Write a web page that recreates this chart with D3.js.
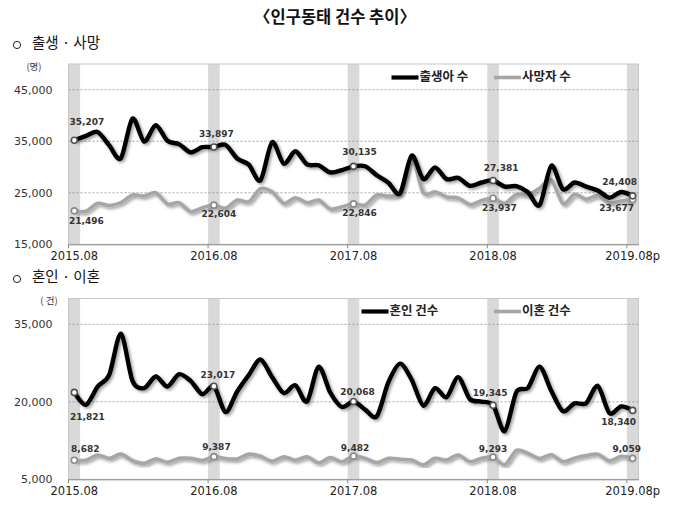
<!DOCTYPE html>
<html><head><meta charset="utf-8">
<script src="https://cdn.jsdelivr.net/npm/d3@7"></script>
<style>
body{margin:0;background:#fff;}
svg{display:block;}
</style></head>
<body>
<svg id="c" width="680" height="506"></svg>
<script>
// ---------- data ----------
const months = [
"2015.08","2015.09","2015.10","2015.11","2015.12","2016.01","2016.02","2016.03","2016.04","2016.05","2016.06","2016.07",
"2016.08","2016.09","2016.10","2016.11","2016.12","2017.01","2017.02","2017.03","2017.04","2017.05","2017.06","2017.07",
"2017.08","2017.09","2017.10","2017.11","2017.12","2018.01","2018.02","2018.03","2018.04","2018.05","2018.06","2018.07",
"2018.08","2018.09","2018.10","2018.11","2018.12","2019.01","2019.02","2019.03","2019.04","2019.05","2019.06","2019.07",
"2019.08p"];
const highlightMonths = ["2015.08","2016.08","2017.08","2018.08","2019.08p"];
const xTickLabels = ["2015.08","2016.08","2017.08","2018.08","2019.08p"];

const births = [
35207,36050,36800,34200,31700,39400,34950,38100,35100,34450,32850,33850,
33897,34300,31650,30450,27400,34800,30650,33050,30500,30350,28950,29400,
30135,30150,28400,26950,24900,32200,27650,29900,27650,27900,26350,27000,
27381,26200,26300,25100,22600,30250,25700,27000,26200,25450,24050,25150,
24408];
const deaths = [
21496,21400,22950,22500,23070,24560,24360,25010,22820,23070,21330,22100,
22604,21980,23590,23260,25800,25200,22950,24040,23070,23590,21850,22300,
22846,22620,24560,24360,25050,31600,25000,25200,24200,24000,22700,23500,
23937,22950,24700,24600,25900,27500,22900,24700,23750,24450,23000,23400,
23677];
const marriages = [
21821,19400,22950,25200,33200,24060,22640,24900,22960,25350,24060,21480,
23017,18000,22000,25200,28200,24800,21700,23200,20060,26800,21800,19000,
20068,18500,17200,23800,27400,24260,19260,22640,20900,24770,20520,20060,
19345,14300,21900,22700,26800,22150,18200,19700,19740,23100,17800,19100,
18340];
const divorces = [
8682,8700,9700,9050,9870,8600,8100,8950,8300,9050,9050,8650,
9387,9000,8950,9870,9450,8500,9350,8700,9350,8200,9200,8400,
9482,9060,8220,9060,8870,8730,7800,9060,8730,9700,8410,9060,
9293,7800,10600,10000,9000,9750,8400,9100,9600,9850,8570,9450,
9059];

const birthTicks = [15000,25000,35000,45000];
const marriageTicks = [5000,20000,35000];

// ---------- layout ----------
const svg = d3.select("#c");
const defs = svg.append("defs");
const f = defs.append("filter").attr("id","sh").attr("x","-5%").attr("y","-20%").attr("width","110%").attr("height","140%");
f.append("feDropShadow").attr("dx",1.8).attr("dy",1.8).attr("stdDeviation",1.4)
 .attr("flood-color","#000").attr("flood-opacity",0.38);

const KR = "'Noto Sans CJK KR','Noto Sans',sans-serif";
const NUM = "'DejaVu Sans',Verdana,sans-serif";

svg.append("text").attr("x",335).attr("y",19).attr("text-anchor","middle")
  .attr("dominant-baseline","middle").style("font-family",KR).style("font-size","16.5px")
  .style("font-weight","bold").attr("fill","#111").text("〈인구동태 건수 추이〉");

const x = d3.scaleBand().domain(months).range([68.5,638.5]).paddingInner(0).paddingOuter(0);
const cx = m => x(m) + x.bandwidth()/2;

function chart(cfg){
  const {top,bottom,domain,ticks,s1,s2,n1,n2,unit,unitX,heading,headingY,legendY,leg1X,leg2X,lab1,lab2} = cfg;
  const y = d3.scaleLinear().domain(domain).range([bottom,top]);
  const g = svg.append("g");

  // heading
  g.append("circle").attr("cx",17).attr("cy",headingY+1).attr("r",3.6)
   .attr("fill","none").attr("stroke","#222").attr("stroke-width",1);
  g.append("text").attr("x",32).attr("y",headingY).attr("dominant-baseline","middle")
   .style("font-family",KR).style("font-size","14.5px").attr("fill","#111").text(heading);

  // highlight bands
  g.selectAll("rect.band").data(highlightMonths).join("rect")
   .attr("x",d=>x(d)).attr("y",top).attr("width",x.bandwidth()).attr("height",bottom-top)
   .attr("fill","#d9d9d9");

  // gridlines
  g.selectAll("line.grid").data(ticks.filter(t=>t!==domain[0])).join("line")
   .attr("x1",68.5).attr("x2",638.5).attr("y1",d=>y(d)).attr("y2",d=>y(d))
   .attr("stroke","#8c8c8c").attr("stroke-width",0.8).attr("stroke-dasharray","2,2");

  // frame
  g.append("rect").attr("x",68.5).attr("y",top).attr("width",570).attr("height",bottom-top)
   .attr("fill","none").attr("stroke","#c8c8c8").attr("stroke-width",1);

  // y axis
  const ya = g.append("g").attr("transform","translate(68.5,0)")
   .call(d3.axisLeft(y).tickValues(ticks).tickFormat(d3.format(",")).tickSize(0).tickPadding(16));
  ya.select(".domain").remove();
  ya.selectAll("text").style("font-family",NUM).style("font-size","11px").attr("fill","#333");

  // unit
  g.append("text").attr("x",unitX).attr("y",top+3).attr("text-anchor","middle").attr("dominant-baseline","middle")
   .style("font-family",KR).style("font-size","9.5px").attr("fill","#333").text(unit);

  // x axis
  const xa = g.append("g").attr("transform",`translate(0,${bottom})`)
   .call(d3.axisBottom(x).tickValues(highlightMonths).tickFormat((d,i)=>xTickLabels[i]).tickSize(0).tickPadding(8));
  xa.select(".domain").attr("stroke","#888");
  xa.selectAll("text").style("font-family",NUM).style("font-size","11.5px").attr("fill","#222");
  g.selectAll("line.xt").data(highlightMonths).join("line")
   .attr("x1",d=>x(d)).attr("x2",d=>x(d)).attr("y1",bottom).attr("y2",bottom+4)
   .attr("stroke","#888").attr("stroke-width",1);

  const line = d3.line().x((d,i)=>cx(months[i])).y(d=>y(d)).curve(d3.curveCardinal.tension(0.15));

  // series
  g.append("path").datum(s2).attr("d",line).attr("fill","none").attr("stroke","#a6a6a6")
   .attr("stroke-width",3.6).attr("stroke-linejoin","round").attr("filter","url(#sh)");
  g.append("path").datum(s1).attr("d",line).attr("fill","none").attr("stroke","#000")
   .attr("stroke-width",4.4).attr("stroke-linejoin","round").attr("filter","url(#sh)");

  const idx = highlightMonths.map(m=>months.indexOf(m));
  [[s2,"#8a8a8a",lab2],[s1,"#505050",lab1]].forEach(([s,col,lab])=>{
    g.selectAll(null).data(idx).join("circle")
     .attr("cx",i=>cx(months[i])).attr("cy",i=>y(s[i])).attr("r",3)
     .attr("fill","#fff").attr("stroke",col).attr("stroke-width",1.6);
    g.selectAll(null).data(idx).join("text")
     .attr("x",(i,k)=>cx(months[i])+lab[k][0]).attr("y",(i,k)=>y(s[i])+lab[k][1])
     .attr("text-anchor","middle").attr("dominant-baseline","middle")
     .style("font-family",NUM).style("font-size","9px").style("font-weight","bold")
     .attr("fill","#333").text(i=>d3.format(",")(s[i]));
  });

  // legend
  const lg = [[leg1X,"#000",n1,4.2],[leg2X,"#a6a6a6",n2,3.6]];
  lg.forEach(([lx,col,name,w])=>{
    g.append("line").attr("x1",lx).attr("x2",lx+27).attr("y1",legendY).attr("y2",legendY)
     .attr("stroke",col).attr("stroke-width",w);
    g.append("text").attr("x",lx+28).attr("y",legendY).attr("dominant-baseline","middle")
     .style("font-family",KR).style("font-size","12.5px").style("font-weight","bold")
     .attr("fill","#222").text(name);
  });
}

chart({top:64,bottom:244.3,domain:[15000,50000],ticks:birthTicks,s1:births,s2:deaths,
  n1:"출생아 수",n2:"사망자 수",unit:"(명)",unitX:34,heading:"출생 · 사망",headingY:44,
  legendY:77.5,leg1X:391.5,leg2X:494,
  lab1:[[12.5,-18],[2.5,-12.5],[6,-13.5],[8,-12.5],[-13,-13.5]],
  lab2:[[12,10.5],[5,9],[6,10],[6.3,10.5],[-16,9]]});

chart({top:298.5,bottom:479.3,domain:[5000,40000],ticks:marriageTicks,s1:marriages,s2:divorces,
  n1:"혼인 건수",n2:"이혼 건수",unit:"( 건)",unitX:49,heading:"혼인 · 이혼",headingY:278,
  legendY:311.5,leg1X:361.5,leg2X:494,
  lab1:[[13,25],[4,-11],[4,-8.5],[-3,-11.5],[-14,12]],
  lab2:[[11,-11],[2.5,-9],[1.5,-8],[0,-8],[-6,-8.5]]});
</script>
</body></html>
